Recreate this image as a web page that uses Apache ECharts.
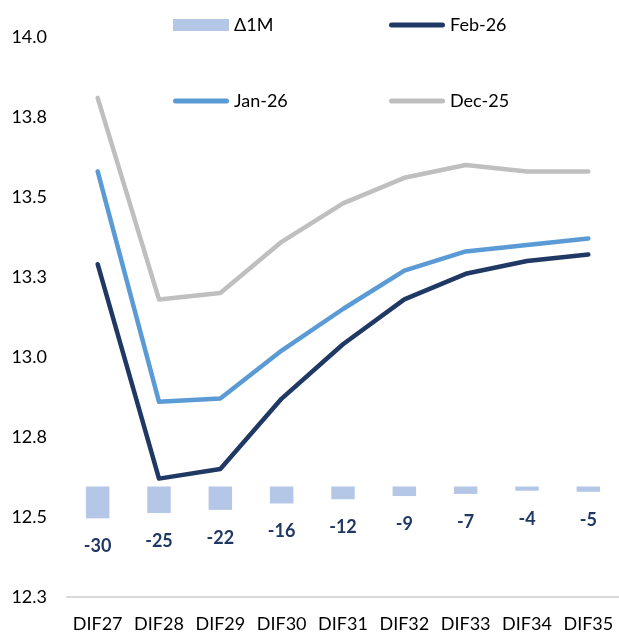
<!DOCTYPE html>
<html>
<head>
<meta charset="utf-8">
<title>DIF curve</title>
<script src="https://cdn.jsdelivr.net/npm/echarts@6/dist/echarts.min.js"></script>
<style>
    html, body { margin: 0; padding: 0; background: #fff; }
    #chart { width: 619px; height: 633px; }
</style>
</head>
<body>
<div id="chart"></div>
<script>
// 数据
const categories = ['DIF27', 'DIF28', 'DIF29', 'DIF30', 'DIF31', 'DIF32', 'DIF33', 'DIF34', 'DIF35']
const feb26 = [13.29, 12.62, 12.65, 12.87, 13.04, 13.18, 13.26, 13.30, 13.32]
const jan26 = [13.58, 12.86, 12.87, 13.02, 13.15, 13.27, 13.33, 13.35, 13.37]
const dec25 = [13.81, 13.18, 13.20, 13.36, 13.48, 13.56, 13.60, 13.58, 13.58]
const delta1m = [-30, -25, -22, -16, -12, -9, -7, -4, -5]

// 左轴刻度
const yMin = 12.25
const yMax = 14.0
const yStep = 0.25

const font = 'Lato'
const navy = '#203864'
// 图例里的线条图标（圆头）
const lineIcon = 'path://M2.5,0 H53.5 A2.5,2.5 0 0 1 53.5,5 H2.5 A2.5,2.5 0 0 1 2.5,0 Z'

const init = (dom) => echarts.init(dom, null, { renderer: 'canvas' })

const lineSeries = (name, data, color) => ({
    name,
    type: 'line',
    data,
    yAxisIndex: 0,
    symbol: 'none',
    z: 3,
    lineStyle: { color, width: 4.5, cap: 'round', join: 'round' },
    itemStyle: { color }
})

const legendCol = (left, data) => ({
    orient: 'vertical',
    left,
    top: 15,
    padding: 0,
    itemWidth: 56,
    itemHeight: 12,
    itemGap: 56,
    selectedMode: false,
    data,
    textStyle: { fontFamily: font, fontSize: 18, color: '#000', lineHeight: 20 }
})

const option = {
    animation: false,
    backgroundColor: '#fff',
    legend: [
        legendCol(173, [{ name: 'Δ1M', icon: 'rect' }, { name: 'Jan-26', icon: lineIcon }]),
        legendCol(389, [{ name: 'Feb-26', icon: lineIcon }, { name: 'Dec-25', icon: lineIcon }])
    ],
    grid: { left: 67, right: -3, top: 37, bottom: 36, containLabel: false },
    xAxis: {
        type: 'category',
        data: categories,
        boundaryGap: true,
        axisLine: { onZero: false, lineStyle: { color: '#D9D9D9', width: 2 } },
        axisTick: { show: false },
        axisLabel: { interval: 0, fontFamily: font, fontSize: 18, color: '#000', margin: 18 }
    },
    yAxis: [
        {
            type: 'value',
            min: yMin,
            max: yMax,
            interval: yStep,
            axisLine: { show: false },
            axisTick: { show: false },
            splitLine: { show: false },
            axisLabel: {
                fontFamily: font,
                fontSize: 18,
                color: '#000',
                margin: 20,
                formatter: (v) => v.toFixed(1)
            }
        },
        {
            // 柱子用的副轴，不显示
            type: 'value',
            min: -104,
            max: 423,
            show: false,
            splitLine: { show: false }
        }
    ],
    series: [
        {
            name: 'Δ1M',
            type: 'bar',
            data: delta1m,
            yAxisIndex: 1,
            barWidth: 23.5,
            z: 2,
            itemStyle: { color: '#B4C7E7' },
            label: {
                show: true,
                position: 'bottom',
                distance: 19,
                fontFamily: font,
                fontSize: 18,
                fontWeight: 'bold',
                color: navy
            }
        },
        lineSeries('Feb-26', feb26, navy),
        lineSeries('Jan-26', jan26, '#5B9BD5'),
        lineSeries('Dec-25', dec25, '#BFBFBF')
    ]
}

const myChart = init(document.getElementById('chart'))
myChart.setOption(option)
</script>
</body>
</html>
